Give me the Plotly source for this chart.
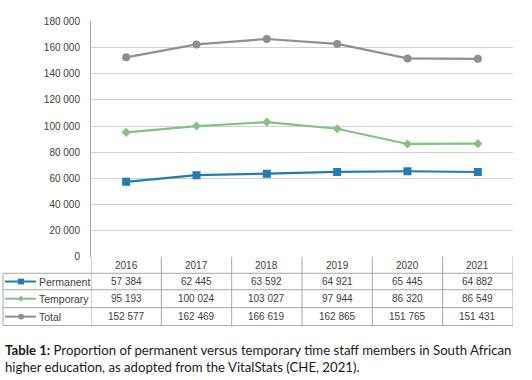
import plotly.graph_objects as go

years = ["2016", "2017", "2018", "2019", "2020", "2021"]
series_names = ["Permanent", "Temporary", "Total"]
permanent = [57384, 62445, 63592, 64921, 65445, 64882]
temporary = [95193, 100024, 103027, 97944, 86320, 86549]
total = [152577, 162469, 166619, 162865, 151765, 151431]
y_ticks = [0, 20000, 40000, 60000, 80000, 100000, 120000, 140000, 160000, 180000]
caption = ("<b>Table 1:</b> Proportion of permanent versus temporary time staff members in South African"
           "<br>higher education, as adopted from the VitalStats (CHE, 2021).")

W, H = 532, 380
colors = ["#1f7cb8", "#84c184", "#8f8f8f"]
symbols = ["square", "diamond", "circle"]
msizes = [8, 7, 8]
values = [permanent, temporary, total]

def px(x):
    return x / W

def py(y):
    return 1 - y / H

def fmt(v):
    return f"{v:,}".replace(",", " ")

PL, PR, PT, PB = 91, 513, 16, 259
fig = go.Figure()
xs = list(range(len(years)))
for name, vals, c, s, m in zip(series_names, values, colors, symbols, msizes):
    fig.add_trace(go.Scatter(x=xs, y=vals, mode="lines+markers", name=name,
                             line=dict(color=c, width=2.2),
                             marker=dict(symbol=s, size=m, color=c),
                             showlegend=False))

txt = "#404040"
border = "#a6a6a6"
font = "Liberation Sans"
shapes = []
ann = []

row_lines = [276, 293, 311.5, 330]
for k in range(len(years) + 1):
    shapes.append(dict(type="line", xref="x", yref="paper", x0=k - 0.5, x1=k - 0.5,
                       y0=py(PB), y1=py(row_lines[-1]), line=dict(color=border, width=1)))
shapes.append(dict(type="line", xref="paper", yref="paper", x0=px(3), x1=px(3),
                   y0=py(row_lines[0]), y1=py(row_lines[-1]), line=dict(color=border, width=1)))
for yl in row_lines:
    shapes.append(dict(type="line", xref="paper", yref="paper", x0=px(3), x1=px(PR),
                       y0=py(yl), y1=py(yl), line=dict(color=border, width=1)))

for i, yr in enumerate(years):
    ann.append(dict(x=i, y=py((PB + row_lines[0]) / 2), xref="x", yref="paper", text=yr,
                    xanchor="center", yanchor="middle",
                    showarrow=False, font=dict(size=10, color=txt, family=font)))

for r, (name, vals, c, s) in enumerate(zip(series_names, values, colors, symbols)):
    yc = (row_lines[r] + row_lines[r + 1]) / 2
    for i, v in enumerate(vals):
        ann.append(dict(x=i, y=py(yc), xref="x", yref="paper", text=fmt(v),
                        xanchor="center", yanchor="middle",
                        showarrow=False, font=dict(size=10, color=txt, family=font)))
    shapes.append(dict(type="line", xref="paper", yref="paper", x0=px(5), x1=px(36),
                       y0=py(yc), y1=py(yc), line=dict(color=c, width=2)))
    mx, r0 = 21, 3
    if s == "square":
        shapes.append(dict(type="rect", xref="paper", yref="paper", x0=px(mx - r0), x1=px(mx + r0),
                           y0=py(yc - r0), y1=py(yc + r0), fillcolor=c, line=dict(width=0)))
    elif s == "circle":
        shapes.append(dict(type="circle", xref="paper", yref="paper", x0=px(mx - r0), x1=px(mx + r0),
                           y0=py(yc - r0), y1=py(yc + r0), fillcolor=c, line=dict(width=0)))
    else:
        d = 3
        path = (f"M {px(mx - d)} {py(yc)} L {px(mx)} {py(yc - d)} L {px(mx + d)} {py(yc)} "
                f"L {px(mx)} {py(yc + d)} Z")
        shapes.append(dict(type="path", xref="paper", yref="paper", path=path,
                           fillcolor=c, line=dict(width=0)))
    ann.append(dict(x=px(37), y=py(yc), xref="paper", yref="paper", text=name,
                    xanchor="left", yanchor="middle",
                    showarrow=False, font=dict(size=10.5, color=txt, family=font)))

ann.append(dict(x=px(3), y=py(345), xref="paper", yref="paper", text=caption, xanchor="left",
                yanchor="top", align="left", showarrow=False,
                font=dict(size=13.2, color="#1a1a1a", family="Lato")))

fig.update_layout(
    width=W, height=H, margin=dict(l=0, r=0, t=0, b=0),
    paper_bgcolor="white", plot_bgcolor="white",
    separators=". ",
    xaxis=dict(domain=[px(PL), px(PR)], range=[-0.5, len(years) - 0.5], showticklabels=False,
               showgrid=False, zeroline=False, showline=False, fixedrange=True),
    yaxis=dict(domain=[py(PB), py(PT)], range=[0, 180000], tickvals=y_ticks,
               tickformat=",d", ticks="outside", ticklen=8, tickcolor="rgba(0,0,0,0)",
               showgrid=True, gridcolor="#d0d0d0", gridwidth=1, zeroline=False,
               showline=True, linecolor="#a6a6a6", linewidth=1,
               tickfont=dict(size=10, color=txt, family=font)),
    shapes=shapes, annotations=ann,
)

fig.write_html("out.html", config={"displayModeBar": False},
               post_script="document.body.style.margin='0';document.body.style.overflow='hidden';")
